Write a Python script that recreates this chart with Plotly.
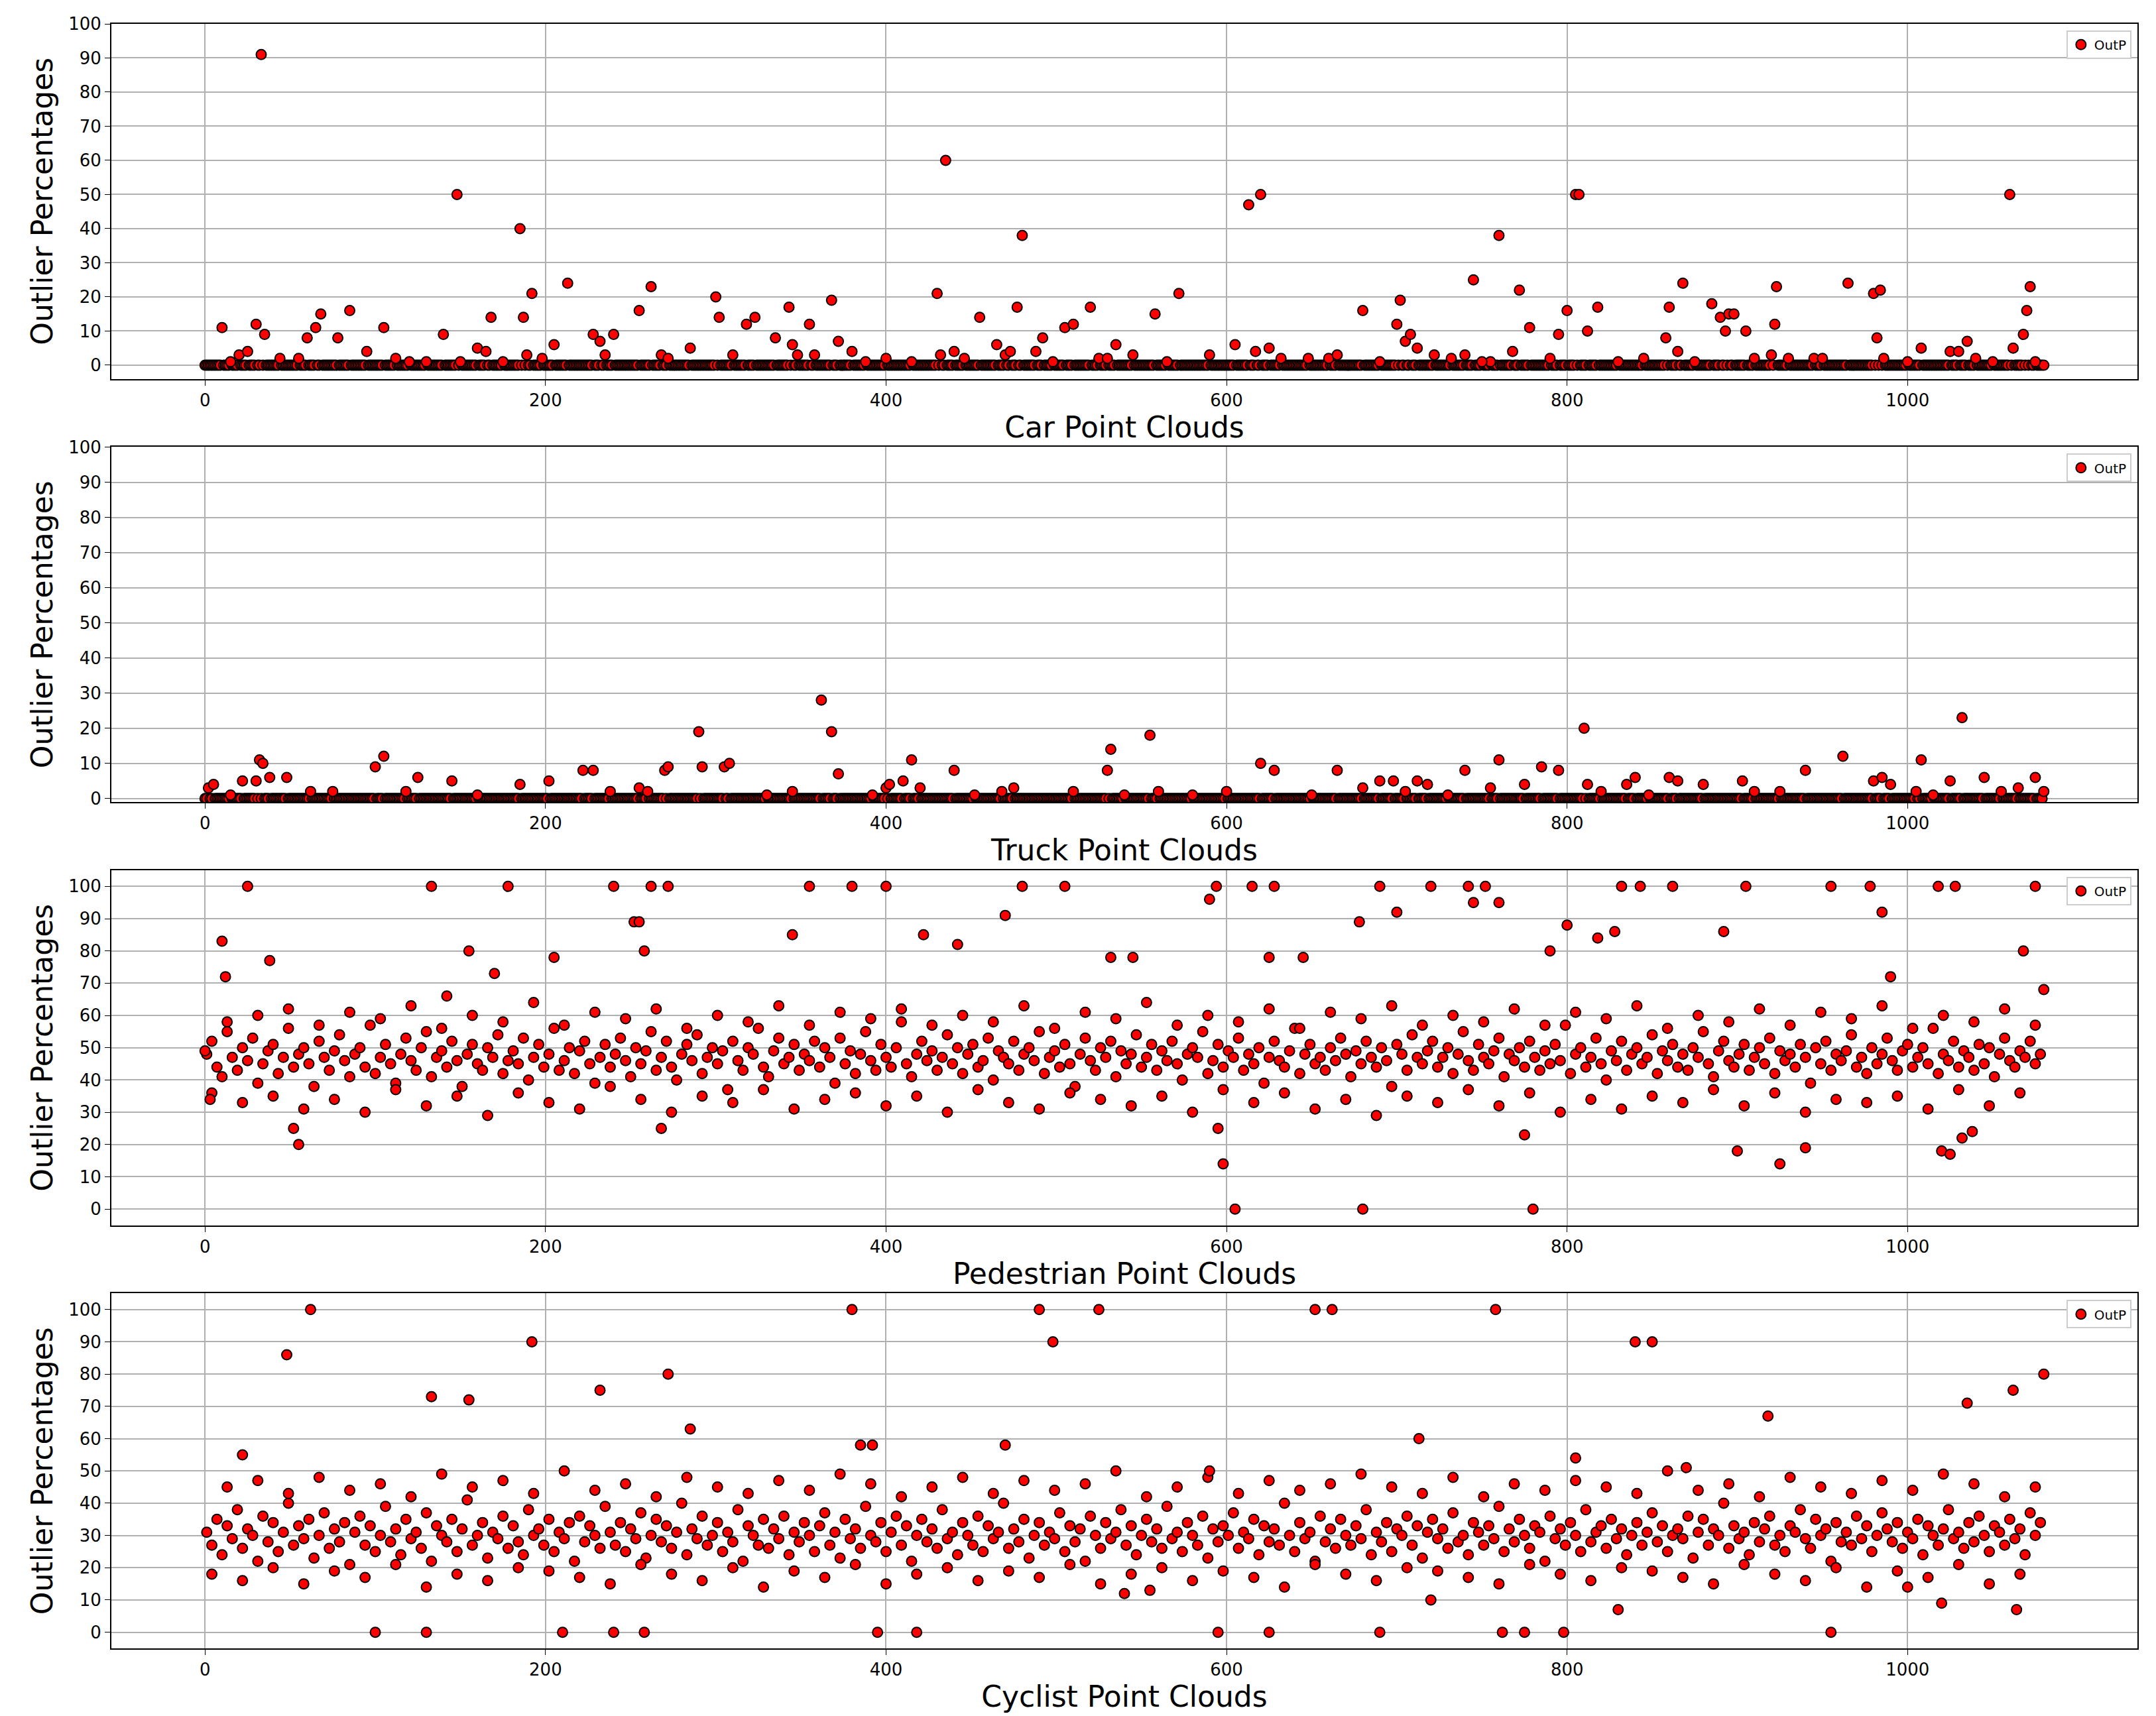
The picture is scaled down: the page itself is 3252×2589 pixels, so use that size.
import plotly.graph_objects as go
from plotly.subplots import make_subplots

N = 1081

# (index, value) outliers for the sparse classes; remaining indices sit at 0
car_idx = [33, 10, 30, 35, 20, 15, 25, 55, 60, 65, 68, 78, 85, 95, 105, 120, 140, 148, 150, 160,
           165, 168, 175, 185, 187, 192, 189, 205, 213, 228, 232, 235, 240, 255, 262, 268, 285, 300, 302, 310,
           318, 323, 335, 343, 345, 355, 358, 368, 372, 380, 400, 415, 430, 432, 435, 440, 455, 465, 470, 473,
           477, 480, 488, 492, 505, 510, 520, 525, 535, 545, 558, 572, 590, 605, 613, 617, 620, 625, 660, 665,
           680, 700, 702, 705, 708, 712, 732, 740, 745, 755, 760, 768, 772, 778, 795, 800, 805, 807, 812, 818,
           858, 860, 865, 868, 885, 890, 893, 895, 898, 905, 920, 922, 923, 930, 945, 965, 980, 982, 984, 986,
           1008, 1025, 1030, 1035, 1060, 1062, 1068, 1070, 1072, 1075, 44, 112, 130, 198, 272, 348, 388, 446, 498, 530,
           565, 632, 648, 690, 722, 750, 790, 830, 845, 875, 910, 950, 1000, 1040, 1050]
car_val = [91, 11, 12, 9, 3, 1, 4, 2, 8, 11, 15, 8, 16, 4, 11, 1, 9, 50, 1, 5,
           4, 14, 1, 40, 14, 21, 3, 6, 24, 9, 7, 3, 9, 16, 23, 3, 5, 20, 14, 3,
           12, 14, 8, 17, 6, 12, 3, 19, 7, 4, 2, 1, 21, 3, 60, 4, 14, 6, 3, 4,
           17, 38, 4, 8, 11, 12, 17, 2, 6, 3, 15, 21, 3, 6, 47, 4, 50, 5, 2, 3,
           16, 12, 19, 7, 9, 5, 2, 3, 25, 1, 38, 4, 22, 11, 9, 16, 50, 50, 10, 17,
           8, 17, 4, 24, 18, 14, 10, 15, 15, 10, 3, 12, 23, 2, 2, 24, 21, 8, 22, 2,
           5, 4, 4, 7, 50, 5, 9, 16, 23, 1, 2, 2, 1, 2, 2, 3, 1, 2, 1, 2,
           1, 2, 2, 1, 3, 1, 2, 1, 2, 1, 2, 2, 1, 2, 1]

truck_idx = [2, 5, 22, 30, 32, 34, 38, 48, 75, 100, 105, 125, 145, 185, 202, 222, 228, 255, 260, 270,
             272, 290, 292, 305, 308, 362, 368, 372, 400, 402, 410, 415, 440, 475, 510, 530, 532, 540, 555, 560,
             620, 628, 665, 690, 698, 712, 718, 740, 755, 760, 775, 785, 795, 810, 812, 835, 840, 860, 865, 880,
             903, 910, 940, 962, 980, 985, 990, 1005, 1008, 1025, 1032, 1045, 1065, 1075, 1080, 15, 62, 118, 160, 238,
             330, 345, 392, 420, 452, 468, 580, 600, 650, 680, 705, 730, 820, 848, 925, 1015, 1055]
truck_val = [3, 4, 5, 5, 11, 10, 6, 6, 2, 9, 12, 6, 5, 4, 5, 8, 8, 3, 2, 8,
             9, 19, 9, 9, 10, 28, 19, 7, 3, 4, 5, 11, 8, 3, 2, 8, 14, 1, 18, 2,
             10, 8, 8, 5, 5, 5, 4, 8, 3, 11, 4, 9, 8, 20, 4, 4, 6, 6, 5, 4,
             5, 2, 8, 12, 5, 6, 4, 2, 11, 5, 23, 6, 3, 6, 2, 1, 2, 2, 1, 2,
             1, 2, 1, 3, 1, 2, 1, 2, 1, 3, 2, 1, 2, 1, 2, 1, 2]

# dense classes: base values every third cloud plus notable outliers
ped_base = [48, 52, 44, 41, 55, 47, 43, 50, 46, 53, 39, 45, 49, 51, 42, 47, 56, 44, 48, 50,
            45, 38, 52, 47, 43, 49, 54, 46, 41, 48, 50, 44, 57, 42, 47, 51, 45, 39, 48, 53,
            46, 43, 50, 55, 41, 47, 49, 44, 52, 46, 38, 48, 51, 45, 43, 50, 47, 54, 42, 46,
            49, 45, 53, 40, 47, 51, 44, 48, 56, 43, 46, 50, 42, 49, 52, 45, 39, 47, 51, 44,
            48, 53, 46, 41, 50, 45, 49, 55, 43, 47, 52, 44, 40, 48, 51, 46, 54, 42, 47, 50,
            45, 49, 37, 52, 46, 43, 50, 48, 56, 44, 41, 49, 53, 45, 47, 51, 43, 48, 46, 52,
            44, 50, 47, 39, 53, 45, 49, 42, 48, 55, 46, 43, 51, 47, 44, 50, 58, 45, 41, 48,
            52, 46, 49, 43, 47, 54, 45, 50, 42, 48, 51, 44, 46, 53, 40, 49, 47, 45, 52, 43,
            48, 50, 46, 55, 42, 47, 49, 44, 51, 45, 38, 48, 53, 46, 43, 50, 47, 52, 41, 49,
            45, 48, 54, 44, 47, 51, 43, 49, 46, 52, 45, 40, 48, 50, 47, 55, 42, 46, 51, 44,
            49, 47, 53, 43, 48, 45, 50, 39, 47, 52, 46, 44, 49, 56, 42, 48, 51, 45, 47, 43,
            50, 46, 53, 48, 41, 49, 45, 52, 47, 44, 50, 46, 38, 51, 48, 43, 54, 47, 45, 49,
            52, 44, 47, 50, 42, 48, 55, 46, 43, 51, 47, 45, 49, 53, 41, 48, 46, 50, 44, 52,
            47, 43, 49, 45, 51, 46, 57, 42, 48, 50, 44, 47, 53, 45, 40, 49, 46, 52, 43, 48,
            50, 45, 47, 54, 42, 49, 46, 51, 44, 48, 43, 50, 47, 55, 45, 41, 49, 52, 46, 44,
            48, 51, 43, 47, 50, 45, 53, 42, 49, 46, 48, 44, 51, 47, 39, 50, 45, 52, 43, 48,
            46, 49, 54, 44, 47, 42, 50, 45, 48, 53, 46, 43, 49, 51, 44, 47, 50, 45, 56, 42,
            48, 46, 52, 44, 49, 47, 43, 51, 45, 50, 41, 48, 53, 46, 44, 49, 47, 52, 45, 48]
ped_mid = [36, 58, 33, 60, 35, 62, 31, 57, 34, 61, 30, 59, 37, 63, 32, 56, 35, 60, 29, 58,
           36, 64, 33, 57, 31, 61, 38, 59, 34, 62, 30, 56, 35, 60, 33, 58, 37, 63, 31, 57,
           34, 61, 36, 59, 32, 62, 35, 57, 30, 60, 37, 58, 33, 63, 31, 56, 36, 61, 34, 59,
           32, 64, 35, 57, 30, 60, 37, 58, 33, 62, 36, 56, 31, 61, 34, 59, 29, 63, 35, 57,
           33, 60, 37, 58, 32, 62, 36, 57, 30, 61, 34, 59, 31, 63, 35, 56, 33, 60, 37, 58,
           32, 62, 36, 57, 30, 61, 34, 59, 33, 63, 35, 56, 31, 60, 37, 58, 32, 62, 36, 57]
ped_out_idx = [0, 3, 10, 12, 25, 38, 52, 55, 133, 142, 155, 170, 178, 205, 240, 252, 255, 258, 262, 268,
               272, 355, 345, 380, 400, 422, 442, 470, 480, 505, 532, 545, 590, 594, 595, 598, 605, 615, 625, 628,
               645, 678, 680, 690, 700, 720, 742, 745, 752, 760, 775, 780, 790, 800, 818, 828, 832, 843, 862, 892,
               900, 905, 925, 940, 955, 978, 985, 990, 1018, 1020, 1025, 1028, 1032, 1038, 1068, 1075, 1080]
ped_out_val = [49, 34, 83, 72, 100, 77, 25, 20, 100, 66, 80, 73, 100, 78, 100, 89, 89, 80, 100, 25,
               100, 100, 85, 100, 100, 85, 82, 91, 100, 100, 78, 78, 96, 100, 25, 14, 0, 100, 78, 100,
               78, 89, 0, 100, 92, 100, 100, 95, 100, 95, 23, 0, 80, 88, 84, 86, 100, 100, 100, 86,
               18, 100, 14, 19, 100, 100, 92, 72, 100, 18, 17, 100, 22, 24, 80, 100, 68]

cyc_base = [31, 27, 35, 24, 33, 29, 38, 26, 32, 30, 22, 36, 28, 34, 25, 31, 40, 27, 33, 29,
            35, 23, 30, 37, 26, 32, 28, 34, 21, 31, 36, 27, 33, 25, 30, 39, 28, 32, 24, 35,
            29, 31, 26, 37, 22, 33, 30, 28, 35, 25, 32, 41, 27, 30, 34, 23, 31, 29, 36, 26,
            33, 28, 24, 38, 30, 32, 27, 35, 25, 31, 29, 34, 22, 36, 28, 33, 30, 26, 39, 31,
            27, 34, 25, 32, 29, 37, 23, 30, 35, 28, 33, 26, 31, 40, 24, 32, 29, 36, 27, 30,
            34, 25, 31, 28, 38, 22, 33, 30, 27, 35, 26, 32, 29, 36, 24, 31, 28, 34, 30, 25,
            33, 37, 27, 31, 23, 35, 29, 32, 26, 39, 30, 28, 34, 25, 31, 36, 27, 33, 22, 30,
            35, 28, 32, 26, 38, 29, 31, 24, 34, 30, 27, 36, 25, 33, 29, 31, 40, 26, 32, 28,
            35, 23, 30, 34, 27, 31, 29, 37, 25, 33, 28, 32, 22, 36, 30, 26, 34, 29, 31, 38,
            27, 33, 24, 30, 35, 28, 32, 26, 39, 29, 31, 25, 34, 30, 27, 36, 23, 32, 28, 33,
            30, 37, 26, 31, 29, 35, 24, 33, 28, 32, 27, 40, 30, 25, 34, 29, 31, 22, 36, 28,
            32, 26, 35, 30, 27, 33, 29, 38, 24, 31, 28, 34, 25, 32, 30, 36, 27, 33, 23, 31,
            35, 29, 32, 26, 37, 28, 30, 24, 34, 31, 27, 33, 29, 39, 25, 32, 28, 35, 30, 26,
            33, 31, 22, 36, 29, 32, 27, 34, 30, 25, 38, 28, 31, 33, 26, 35, 29, 32, 24, 30,
            34, 27, 31, 37, 28, 33, 25, 30, 32, 29, 36, 23, 31, 35, 27, 32, 30, 40, 26, 33,
            29, 31, 24, 34, 28, 32, 36, 27, 30, 25, 33, 31, 38, 29, 26, 35, 30, 32, 22, 34,
            28, 31, 27, 36, 29, 33, 25, 30, 37, 32, 28, 34, 26, 31, 29, 35, 24, 33, 30, 27,
            32, 38, 29, 31, 26, 34, 28, 36, 30, 25, 33, 31, 27, 35, 29, 32, 24, 37, 30, 34]
cyc_mid = [18, 45, 16, 47, 20, 43, 15, 48, 19, 44, 17, 46, 21, 42, 14, 49, 18, 45, 16, 47,
           20, 43, 19, 50, 17, 44, 15, 46, 21, 42, 18, 48, 16, 45, 20, 43, 14, 47, 19, 44,
           17, 49, 21, 46, 15, 42, 18, 45, 20, 48, 16, 43, 19, 47, 17, 44, 21, 46, 15, 50,
           18, 42, 20, 45, 16, 48, 19, 43, 17, 47, 14, 44, 21, 46, 18, 49, 16, 45, 20, 43,
           19, 48, 17, 42, 15, 46, 21, 44, 18, 47, 16, 45, 20, 43, 19, 50, 17, 44, 15, 46,
           21, 42, 18, 48, 16, 45, 20, 43, 14, 47, 19, 44, 17, 49, 21, 46, 15, 42, 18, 45]
cyc_out_idx = [48, 62, 100, 130, 133, 155, 192, 210, 232, 240, 258, 272, 380, 385, 392, 395, 418, 490, 498, 525,
               540, 555, 590, 595, 625, 652, 662, 690, 713, 720, 758, 762, 775, 798, 830, 840, 850, 918, 955, 1000,
               1020, 1035, 1062, 1080, 1064, 22, 285, 470, 805, 870]
cyc_out_val = [86, 100, 0, 0, 73, 72, 90, 0, 75, 0, 0, 80, 100, 58, 58, 0, 0, 100, 90, 100,
               12, 13, 50, 0, 0, 100, 100, 0, 60, 10, 100, 0, 0, 0, 7, 90, 90, 67, 0, 14,
               9, 71, 75, 80, 7, 55, 63, 58, 54, 51]

base_x = list(range(1, N, 3))
mid_x = list(range(4, N, 9))

car_set = set(car_idx)
car_x = [i for i in range(N) if i not in car_set] + car_idx
car_y = [0] * (N - len(car_set)) + car_val
truck_set = set(truck_idx)
truck_x = [i for i in range(N) if i not in truck_set] + truck_idx
truck_y = [0] * (N - len(truck_set)) + truck_val
ped_x = base_x + mid_x + ped_out_idx
ped_y = ped_base + ped_mid + ped_out_val
cyc_x = base_x + mid_x + cyc_out_idx
cyc_y = cyc_base + cyc_mid + cyc_out_val

panels = [("Car Point Clouds", car_x, car_y, [-4, 100]),
          ("Truck Point Clouds", truck_x, truck_y, [-1, 100]),
          ("Pedestrian Point Clouds", ped_x, ped_y, [-5, 105]),
          ("Cyclist Point Clouds", cyc_x, cyc_y, [-5, 105])]

fig = make_subplots(rows=4, cols=1, vertical_spacing=0.042)
font = "DejaVu Sans"
for r, (title, xs, ys, yr) in enumerate(panels, start=1):
    lg = "legend" if r == 1 else f"legend{r}"
    fig.add_trace(go.Scatter(x=xs, y=ys, mode="markers", name="OutP", legend=lg, showlegend=True,
                             marker=dict(color="red", size=15, line=dict(color="black", width=2))),
                  row=r, col=1)
    fig.update_xaxes(range=[-55, 1135], tickvals=[0, 200, 400, 600, 800, 1000],
                     title=dict(text=title, font=dict(size=44, color="black"), standoff=4),
                     row=r, col=1)
    fig.update_yaxes(range=yr, tickvals=list(range(0, 101, 10)),
                     title=dict(text="Outlier Percentages", font=dict(size=44, color="black"), standoff=10),
                     row=r, col=1)

fig.update_xaxes(showline=True, linecolor="black", linewidth=2, mirror=True, ticks="outside",
                 ticklen=8, tickcolor="black", showgrid=True, gridcolor="#b0b0b0", gridwidth=2,
                 zeroline=False, tickfont=dict(size=26, color="black"))
fig.update_yaxes(showline=True, linecolor="black", linewidth=2, mirror=True, ticks="outside",
                 ticklen=8, tickcolor="black", showgrid=True, gridcolor="#b0b0b0", gridwidth=2,
                 zeroline=False, tickfont=dict(size=26, color="black"))

legends = {}
for r in range(1, 5):
    dom = fig.layout["yaxis" if r == 1 else f"yaxis{r}"].domain
    legends["legend" if r == 1 else f"legend{r}"] = dict(
        x=0.997, y=dom[1] - 0.004, xanchor="right", yanchor="top",
        bgcolor="white", bordercolor="#cccccc", borderwidth=2, font=dict(size=20, color="black"))

fig.update_layout(width=3252, height=2589, plot_bgcolor="white", paper_bgcolor="white",
                  showlegend=True, font=dict(family=font),
                  margin=dict(l=160, r=36, t=28, b=110), **legends)

fig.write_html("out.html")
